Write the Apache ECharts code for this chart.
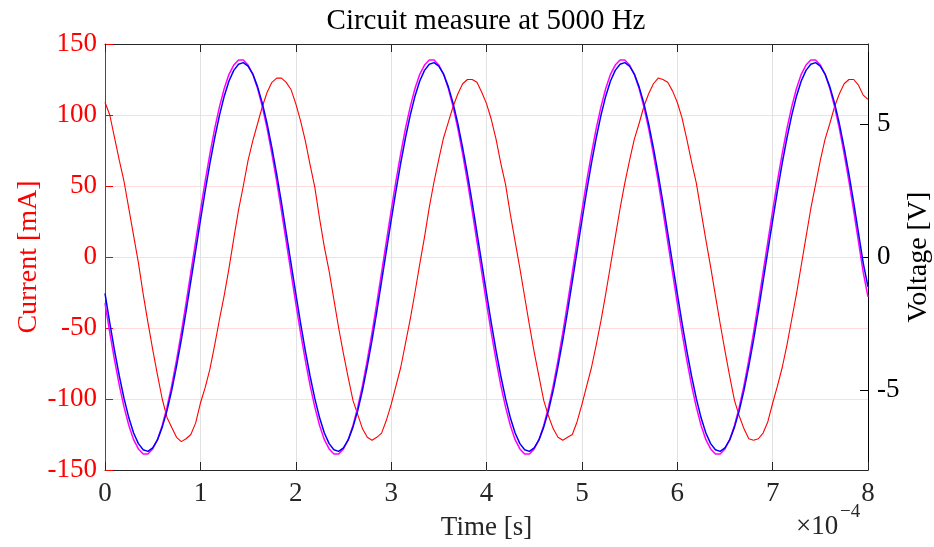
<!DOCTYPE html>
<html>
<head>
<meta charset="utf-8">
<script src="https://cdn.jsdelivr.net/npm/echarts/dist/echarts.min.js"></script>
<style>
  html, body { margin: 0; padding: 0; background: #fff; }
  #chart { width: 934px; height: 547px; }
</style>
</head>
<body>
<div id="chart"></div>
<script>
// samples every 5 us, 0 .. 800 us
var sampleStep = 0.05e-4;

// current through the circuit [mA] (red, left axis)
var currentMA = [
  109, 100, 84, 68, 53, 34, 15, -4, -26, -46,
  -65, -83, -100, -113, -120, -127, -130, -128, -125, -117,
  -103, -92, -79, -62, -44, -27, -8, 13, 33, 50,
  68, 82, 94, 106, 116, 123, 126, 126, 123, 118,
  108, 96, 82, 65, 49, 27, 7, -10, -30, -50,
  -68, -85, -101, -111, -121, -127, -129, -127, -124, -115,
  -104, -91, -78, -61, -44, -25, -5, 14, 35, 53,
  69, 84, 95, 106, 115, 122, 125, 125, 123, 116,
  108, 97, 83, 66, 51, 30, 11, -8, -28, -48,
  -67, -84, -101, -112, -121, -127, -129, -127, -125, -116,
  -104, -91, -78, -62, -45, -26, -6, 14, 34, 52,
  68, 83, 94, 106, 115, 122, 126, 125, 123, 117,
  109, 98, 83, 67, 52, 32, 12, -7, -27, -47,
  -66, -84, -101, -112, -121, -128, -129, -128, -124, -116,
  -103, -91, -78, -62, -44, -26, -6, 14, 34, 51,
  68, 83, 94, 106, 115, 122, 125, 125, 121, 114,
  111
];

// measured voltage [V] (blue, right axis)
var voltageMeas = [
  -1.37, -2.47, -3.52, -4.47, -5.32, -6.04, -6.61, -7.01, -7.24, -7.30,
  -7.17, -6.87, -6.39, -5.77, -5.00, -4.10, -3.11, -2.04, -0.91, 0.23,
  1.37, 2.47, 3.52, 4.47, 5.32, 6.04, 6.61, 7.01, 7.24, 7.30,
  7.17, 6.87, 6.39, 5.77, 5.00, 4.10, 3.11, 2.04, 0.91, -0.23,
  -1.37, -2.47, -3.52, -4.47, -5.32, -6.04, -6.61, -7.01, -7.24, -7.30,
  -7.17, -6.87, -6.39, -5.77, -5.00, -4.10, -3.11, -2.04, -0.91, 0.23,
  1.37, 2.47, 3.52, 4.47, 5.32, 6.04, 6.61, 7.01, 7.24, 7.30,
  7.17, 6.87, 6.39, 5.77, 5.00, 4.10, 3.11, 2.04, 0.91, -0.23,
  -1.37, -2.47, -3.52, -4.47, -5.32, -6.04, -6.61, -7.01, -7.24, -7.30,
  -7.17, -6.87, -6.39, -5.77, -5.00, -4.10, -3.11, -2.04, -0.91, 0.23,
  1.37, 2.47, 3.52, 4.47, 5.32, 6.04, 6.61, 7.01, 7.24, 7.30,
  7.17, 6.87, 6.39, 5.77, 5.00, 4.10, 3.11, 2.04, 0.91, -0.23,
  -1.37, -2.47, -3.52, -4.47, -5.32, -6.04, -6.61, -7.01, -7.24, -7.30,
  -7.17, -6.87, -6.39, -5.77, -5.00, -4.10, -3.11, -2.04, -0.91, 0.23,
  1.37, 2.47, 3.52, 4.47, 5.32, 6.04, 6.61, 7.01, 7.24, 7.30,
  7.17, 6.87, 6.39, 5.77, 5.00, 4.10, 3.11, 2.04, 0.91, -0.23,
  -1.12
];

// generator voltage [V] (magenta, right axis)
var voltageGen = [
  -1.73, -2.84, -3.87, -4.82, -5.64, -6.33, -6.86, -7.21, -7.40, -7.40,
  -7.21, -6.86, -6.33, -5.64, -4.82, -3.87, -2.84, -1.73, -0.58, 0.58,
  1.73, 2.84, 3.87, 4.82, 5.64, 6.33, 6.86, 7.21, 7.40, 7.40,
  7.21, 6.86, 6.33, 5.64, 4.82, 3.87, 2.84, 1.73, 0.58, -0.58,
  -1.73, -2.84, -3.87, -4.82, -5.64, -6.33, -6.86, -7.21, -7.40, -7.40,
  -7.21, -6.86, -6.33, -5.64, -4.82, -3.87, -2.84, -1.73, -0.58, 0.58,
  1.73, 2.84, 3.87, 4.82, 5.64, 6.33, 6.86, 7.21, 7.40, 7.40,
  7.21, 6.86, 6.33, 5.64, 4.82, 3.87, 2.84, 1.73, 0.58, -0.58,
  -1.73, -2.84, -3.87, -4.82, -5.64, -6.33, -6.86, -7.21, -7.40, -7.40,
  -7.21, -6.86, -6.33, -5.64, -4.82, -3.87, -2.84, -1.73, -0.58, 0.58,
  1.73, 2.84, 3.87, 4.82, 5.64, 6.33, 6.86, 7.21, 7.40, 7.40,
  7.21, 6.86, 6.33, 5.64, 4.82, 3.87, 2.84, 1.73, 0.58, -0.58,
  -1.73, -2.84, -3.87, -4.82, -5.64, -6.33, -6.86, -7.21, -7.40, -7.40,
  -7.21, -6.86, -6.33, -5.64, -4.82, -3.87, -2.84, -1.73, -0.58, 0.58,
  1.73, 2.84, 3.87, 4.82, 5.64, 6.33, 6.86, 7.21, 7.40, 7.40,
  7.21, 6.86, 6.33, 5.64, 4.82, 3.87, 2.84, 1.73, 0.58, -0.58,
  -1.50
];

var voltageTicks = [-5, 0, 5];

function pairs(values) {
  var out = [];
  for (var i = 0; i < values.length; i++) {
    out.push([i * sampleStep, values[i]]);
  }
  return out;
}

var FONT = '"Liberation Serif", "Times New Roman", serif';
var AX = '#262626';

var chart = echarts.init(document.getElementById('chart'));
chart.setOption({
  animation: false,
  textStyle: { fontFamily: FONT },
  grid: { left: 105, right: 66, top: 44, bottom: 77, containLabel: false, outerBoundsMode: 'none' },
  xAxis: [
    {
      type: 'value',
      position: 'bottom',
      min: 0,
      max: 8e-4,
      interval: 1e-4,
      name: 'Time [s]',
      nameLocation: 'middle',
      nameGap: 44,
      nameMoveOverlap: false,
      nameTextStyle: { fontSize: 27, color: AX, fontFamily: FONT },
      axisLine: { onZero: false, lineStyle: { color: AX, width: 1 } },
      axisTick: { inside: true, length: 8, lineStyle: { color: AX } },
      axisLabel: {
        fontSize: 27, color: AX, margin: 10, fontFamily: FONT,
        formatter: function (v) { return String(Math.round(v * 1e4)); }
      },
      splitLine: { show: true, lineStyle: { color: '#e2e2e2', width: 1 } }
    },
    {
      type: 'value',
      position: 'top',
      min: 0,
      max: 8e-4,
      interval: 1e-4,
      axisLine: { onZero: false, lineStyle: { color: AX, width: 1 } },
      axisTick: { inside: true, length: 8, lineStyle: { color: AX } },
      axisLabel: { show: false },
      splitLine: { show: false }
    }
  ],
  yAxis: [
    {
      type: 'value',
      position: 'left',
      min: -150,
      max: 150,
      interval: 50,
      name: 'Current [mA]',
      nameLocation: 'middle',
      nameGap: 62,
      nameMoveOverlap: false,
      nameTextStyle: { fontSize: 28, color: '#ff0000', fontFamily: FONT },
      axisLine: { show: true, onZero: false, lineStyle: { color: '#ff0000', width: 1 } },
      axisTick: { show: true, inside: true, length: 8, lineStyle: { color: '#ff0000' } },
      axisLabel: { fontSize: 27, color: '#ff0000', margin: 8, fontFamily: FONT },
      splitLine: { show: true, lineStyle: { color: '#ffdcdc', width: 1 } }
    },
    {
      type: 'value',
      position: 'right',
      min: -8,
      max: 8,
      name: 'Voltage [V]',
      nameLocation: 'middle',
      nameGap: 37,
      nameMoveOverlap: false,
      nameTextStyle: { fontSize: 28, color: '#000', fontFamily: FONT },
      axisLine: { show: true, onZero: false, lineStyle: { color: '#000', width: 1 } },
      axisTick: {
        show: true, inside: true, length: 8,
        customValues: voltageTicks,
        lineStyle: { color: '#000' }
      },
      axisLabel: {
        fontSize: 27, color: '#000', margin: 9, fontFamily: FONT,
        customValues: voltageTicks
      },
      splitLine: { show: false }
    }
  ],
  graphic: [
    {
      type: 'text', x: 486, y: 21,
      style: {
        text: 'Circuit measure at 5000 Hz', font: '29px ' + FONT,
        fill: '#000', textAlign: 'center', textVerticalAlign: 'middle'
      }
    },
    {
      type: 'text', x: 796, y: 527,
      style: {
        text: '\u00d710', font: '27px ' + FONT,
        fill: AX, textAlign: 'left', textVerticalAlign: 'middle'
      }
    },
    {
      type: 'text', x: 840, y: 512,
      style: {
        text: '\u22124', font: '19px ' + FONT,
        fill: AX, textAlign: 'left', textVerticalAlign: 'middle'
      }
    }
  ],
  series: [
    {
      name: 'Current',
      type: 'line',
      xAxisIndex: 0,
      yAxisIndex: 0,
      data: pairs(currentMA),
      showSymbol: false,
      lineStyle: { color: '#ff0000', width: 1.1 }
    },
    {
      name: 'Generator voltage',
      type: 'line',
      xAxisIndex: 0,
      yAxisIndex: 1,
      data: pairs(voltageGen),
      showSymbol: false,
      lineStyle: { color: '#ff00ff', width: 1.5 }
    },
    {
      name: 'Measured voltage',
      type: 'line',
      xAxisIndex: 0,
      yAxisIndex: 1,
      data: pairs(voltageMeas),
      showSymbol: false,
      lineStyle: { color: '#0000ff', width: 1.5 }
    }
  ]
});
</script>
</body>
</html>
